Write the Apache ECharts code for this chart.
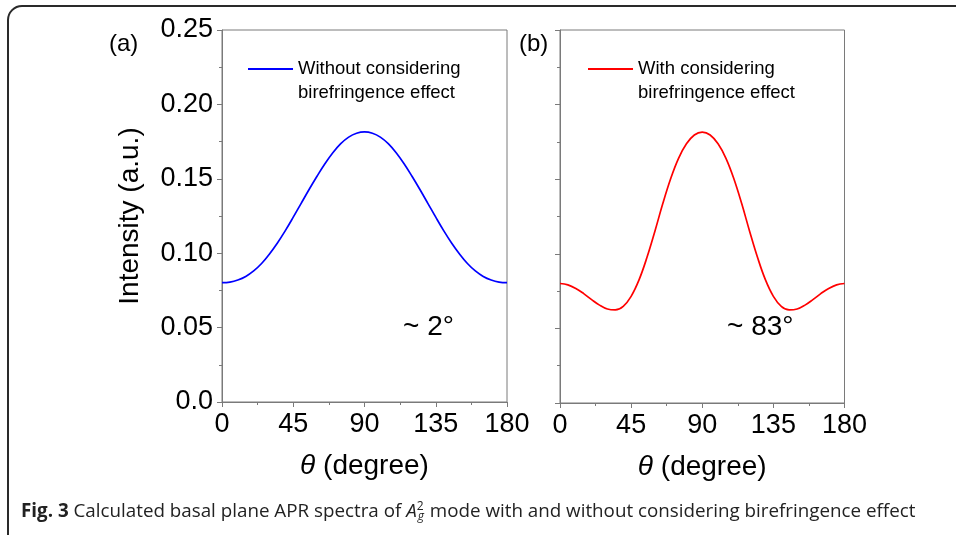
<!DOCTYPE html>
<html>
<head>
<meta charset="utf-8">
<script src="https://cdn.jsdelivr.net/npm/echarts@6/dist/echarts.min.js"></script>
<style>
  html, body { margin: 0; padding: 0; background: #fff; }
  #chart { width: 956px; height: 535px; }
</style>
</head>
<body>
<div id="chart"></div>
<script>
// theta in degrees, intensity in a.u.
var angles = [0, 5, 10, 15, 20, 25, 30, 35, 40, 45, 50, 55, 60, 65, 70, 75, 80, 85, 90,
    95, 100, 105, 110, 115, 120, 125, 130, 135, 140, 145, 150, 155, 160, 165, 170, 175, 180];
var withoutBiref = [0.0802, 0.0806, 0.0820, 0.0844, 0.0881, 0.0931, 0.0995, 0.1069, 0.1152, 0.1242,
    0.1335, 0.1428, 0.1517, 0.1601, 0.1675, 0.1736, 0.1780, 0.1806, 0.1815,
    0.1806, 0.1780, 0.1736, 0.1675, 0.1601, 0.1517, 0.1428, 0.1335, 0.1242, 0.1152,
    0.1069, 0.0995, 0.0931, 0.0881, 0.0844, 0.0820, 0.0806, 0.0802];
var withBiref = [0.0801, 0.0792, 0.0768, 0.0733, 0.0693, 0.0656, 0.0630, 0.0624, 0.0648, 0.0715,
    0.0825, 0.0975, 0.1150, 0.1335, 0.1503, 0.1640, 0.1737, 0.1796, 0.1815,
    0.1796, 0.1737, 0.1640, 0.1503, 0.1335, 0.1150, 0.0975, 0.0825, 0.0715, 0.0648,
    0.0624, 0.0630, 0.0656, 0.0693, 0.0733, 0.0768, 0.0792, 0.0801];

var nameA = 'Without considering';
var nameB = 'With considering';
var nameTail = 'birefringence effect';

function pairs(xs, ys) {
    return xs.map(function (x, i) { return [x, ys[i]]; });
}

var font = "'Liberation Sans', Arial, sans-serif";
var capFont = "'Liberation Sans Narrow', 'Open Sans', sans-serif";
var axisGrey = '#7a7a7a';

function xAxis(idx) {
    return {
        type: 'value', gridIndex: idx, min: 0, max: 180, interval: 45,
        name: '{i|θ} (degree)', nameLocation: 'middle', nameGap: 50,
        nameTextStyle: {
            fontFamily: font, fontSize: 28, color: '#000',
            rich: { i: { fontFamily: font, fontSize: 28, fontStyle: 'italic', color: '#000' } }
        },
        axisLine: { show: true, lineStyle: { color: axisGrey, width: 1 } },
        axisTick: { show: true, length: 5, lineStyle: { color: axisGrey } },
        minorTick: { show: true, splitNumber: 2, length: 3, lineStyle: { color: axisGrey } },
        axisLabel: { fontFamily: font, fontSize: 27, color: '#000', margin: 9 },
        splitLine: { show: false }
    };
}

function yAxis(idx, labels) {
    return {
        type: 'value', gridIndex: idx, min: 0, max: 0.25, interval: 0.05,
        name: labels ? 'Intensity (a.u.)' : '', nameLocation: 'middle', nameGap: 78,
        nameTextStyle: { fontFamily: font, fontSize: 28, color: '#000' },
        axisLine: { show: true, lineStyle: { color: axisGrey, width: 1 } },
        axisTick: { show: true, length: 5, lineStyle: { color: axisGrey } },
        minorTick: { show: true, splitNumber: 2, length: 3, lineStyle: { color: axisGrey } },
        axisLabel: {
            show: labels, fontFamily: font, fontSize: 27, color: '#000', margin: 9,
            padding: [5, 0, 0, 0],
            formatter: function (v) { return v === 0 ? '0.0' : v.toFixed(2); }
        },
        splitLine: { show: false }
    };
}

function legend(left, name, gap) {
    return {
        data: [name], left: left, top: 33, padding: 0,
        itemWidth: 45, itemHeight: 2, itemGap: 0, itemStyle: { opacity: 1 },
        icon: 'rect', textGap: gap, selectedMode: false,
        // leading blank line keeps the sample line level with the first text line
        formatter: function (n) { return '\n' + n + '\n' + nameTail; },
        textStyle: { fontFamily: font, fontSize: 18.5, color: '#000', lineHeight: 24 }
    };
}

var chart = echarts.init(document.getElementById('chart'), null, { renderer: 'canvas' });
chart.setOption({
    backgroundColor: '#fff',
    animation: false,
    grid: [
        { left: 222, top: 30, width: 285, height: 372, show: true, borderColor: axisGrey, borderWidth: 1 },
        { left: 560, top: 30, width: 284.5, height: 373, show: true, borderColor: axisGrey, borderWidth: 1 }
    ],
    xAxis: [xAxis(0), xAxis(1)],
    yAxis: [yAxis(0, true), yAxis(1, false)],
    legend: [legend(248, nameA, 10), legend(588, nameB, 12)],
    series: [
        {
            name: nameA, type: 'line', xAxisIndex: 0, yAxisIndex: 0,
            data: pairs(angles, withoutBiref), showSymbol: false, smooth: 0.4,
            lineStyle: { color: '#0000ff', width: 1.7 }, itemStyle: { color: '#0000ff' }
        },
        {
            name: nameB, type: 'line', xAxisIndex: 1, yAxisIndex: 1,
            data: pairs(angles, withBiref), showSymbol: false, smooth: 0.4,
            lineStyle: { color: '#ff0000', width: 1.7 }, itemStyle: { color: '#ff0000' }
        }
    ],
    graphic: [
        {
            type: 'rect', silent: true, z: -1,
            shape: { x: 8, y: 6, width: 1000, height: 600, r: 14 },
            style: { fill: 'none', stroke: '#2a2a2a', lineWidth: 2 }
        },
        { type: 'text', left: 109, top: 32, style: { text: '(a)', fontFamily: font, fontSize: 24, fill: '#000' } },
        { type: 'text', left: 519, top: 32, style: { text: '(b)', fontFamily: font, fontSize: 24, fill: '#000' } },
        { type: 'text', left: 403, top: 313, style: { text: '~ 2°', fontFamily: font, fontSize: 28, fill: '#000' } },
        { type: 'text', left: 727, top: 313, style: { text: '~ 83°', fontFamily: font, fontSize: 28, fill: '#000' } },
        {
            type: 'text', left: 21, top: 501,
            style: {
                text: '{b|Fig. 3} Calculated basal plane APR spectra of {i|A}{sup|2}{sub|g} mode with and without considering birefringence effect',
                fontFamily: capFont, fontSize: 18.8, fill: '#222',
                rich: {
                    b: { fontFamily: capFont, fontSize: 18.8, fontWeight: 'bold', fill: '#222' },
                    i: { fontFamily: capFont, fontSize: 18.8, fontStyle: 'italic', fill: '#222' },
                    sup: { fontFamily: capFont, fontSize: 12, fill: '#222', width: 1, align: 'left', verticalAlign: 'top', padding: [0, 0, 8, 0] },
                    sub: { fontFamily: capFont, fontSize: 12, fontStyle: 'italic', fill: '#222', verticalAlign: 'bottom', padding: [10, 1, 0, 0] }
                }
            }
        }
    ]
});
</script>
</body>
</html>
